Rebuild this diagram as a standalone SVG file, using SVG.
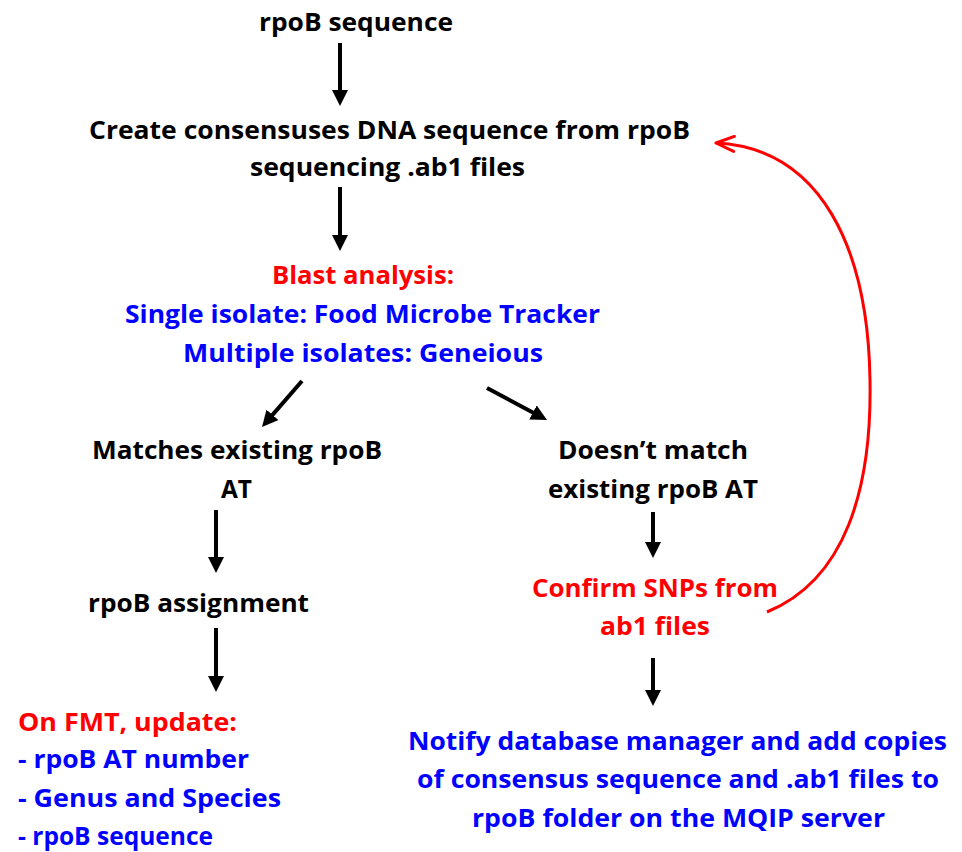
<svg xmlns="http://www.w3.org/2000/svg" width="962" height="852" viewBox="0 0 962 852">
<defs>
<style>
text{font-family:"Open Sans","Liberation Sans",sans-serif;font-weight:700;font-size:25px;}
.k{fill:#000000;}
.r{fill:#FF0000;}
.b{fill:#0000FF;}
.arr{stroke:#000000;stroke-width:4;fill:none;marker-end:url(#ah);}
.loop{stroke:#FF0000;stroke-width:3;fill:none;marker-end:url(#rh);}
</style>
<marker id="ah" viewBox="0 0 16 16" refX="2" refY="8" markerWidth="16" markerHeight="16" markerUnits="userSpaceOnUse" orient="auto">
<path d="M0,0 L16,8 L0,16 z" fill="#000000"/>
</marker>
<marker id="rh" viewBox="0 0 22 18" refX="20" refY="9" markerWidth="22" markerHeight="18" markerUnits="userSpaceOnUse" orient="auto">
<path d="M2,1.5 L20,9 L2,16.5" fill="none" stroke="#FF0000" stroke-width="3" stroke-linecap="round" stroke-linejoin="round"/>
</marker>
</defs>
<rect width="962" height="852" fill="#FFFFFF"/>

<g id="connectors">
<line class="arr" x1="340" y1="43" x2="340" y2="92"/>
<line class="arr" x1="340" y1="187" x2="340" y2="237"/>
<line class="arr" x1="302" y1="381" x2="271.2" y2="416.4"/>
<line class="arr" x1="487" y1="388" x2="534.7" y2="413.4"/>
<line class="arr" x1="216" y1="510" x2="216" y2="559"/>
<line class="arr" x1="216" y1="628" x2="216" y2="678"/>
<line class="arr" x1="653" y1="512" x2="653" y2="544"/>
<line class="arr" x1="653" y1="658" x2="653" y2="692"/>
<path class="loop" d="M767,612 C845,580 872,490 870,380 C868,250 822,148 716,143"/>
</g>

<g id="n-rpob-sequence">
<text class="k" x="259" y="31" textLength="194" lengthAdjust="spacingAndGlyphs">rpoB sequence</text>
</g>
<g id="n-consensus">
<text class="k" x="89" y="139" textLength="601" lengthAdjust="spacingAndGlyphs">Create consensuses DNA sequence from rpoB</text>
<text class="k" x="250" y="176" textLength="275" lengthAdjust="spacingAndGlyphs">sequencing .ab1 files</text>
</g>
<g id="n-blast">
<text class="r" x="272" y="284" textLength="182" lengthAdjust="spacingAndGlyphs">Blast analysis:</text>
<text class="b" x="125" y="323" textLength="475" lengthAdjust="spacingAndGlyphs">Single isolate: Food Microbe Tracker</text>
<text class="b" x="183" y="362" textLength="360" lengthAdjust="spacingAndGlyphs">Multiple isolates: Geneious</text>
</g>
<g id="n-matches">
<text class="k" x="92" y="459" textLength="290" lengthAdjust="spacingAndGlyphs">Matches existing rpoB</text>
<text class="k" x="221" y="498" textLength="31" lengthAdjust="spacingAndGlyphs">AT</text>
</g>
<g id="n-no-match">
<text class="k" x="558" y="459" textLength="190" lengthAdjust="spacingAndGlyphs">Doesn’t match</text>
<text class="k" x="548" y="498" textLength="210" lengthAdjust="spacingAndGlyphs">existing rpoB AT</text>
</g>
<g id="n-assignment">
<text class="k" x="88" y="612" textLength="221" lengthAdjust="spacingAndGlyphs">rpoB assignment</text>
</g>
<g id="n-confirm">
<text class="r" x="532" y="597" textLength="246" lengthAdjust="spacingAndGlyphs">Confirm SNPs from</text>
<text class="r" x="600" y="635" textLength="110" lengthAdjust="spacingAndGlyphs">ab1 files</text>
</g>
<g id="n-fmt-update">
<text class="r" x="18" y="731" textLength="219" lengthAdjust="spacingAndGlyphs">On FMT, update:</text>
<text class="b" x="18" y="768" textLength="231" lengthAdjust="spacingAndGlyphs">- rpoB AT number</text>
<text class="b" x="18" y="807" textLength="263" lengthAdjust="spacingAndGlyphs">- Genus and Species</text>
<text class="b" x="18" y="845" textLength="195" lengthAdjust="spacingAndGlyphs">- rpoB sequence</text>
</g>
<g id="n-notify">
<text class="b" x="408" y="750" textLength="539" lengthAdjust="spacingAndGlyphs">Notify database manager and add copies</text>
<text class="b" x="417" y="788" textLength="522" lengthAdjust="spacingAndGlyphs">of consensus sequence and .ab1 files to</text>
<text class="b" x="472" y="827" textLength="413" lengthAdjust="spacingAndGlyphs">rpoB folder on the MQIP server</text>
</g>
</svg>
